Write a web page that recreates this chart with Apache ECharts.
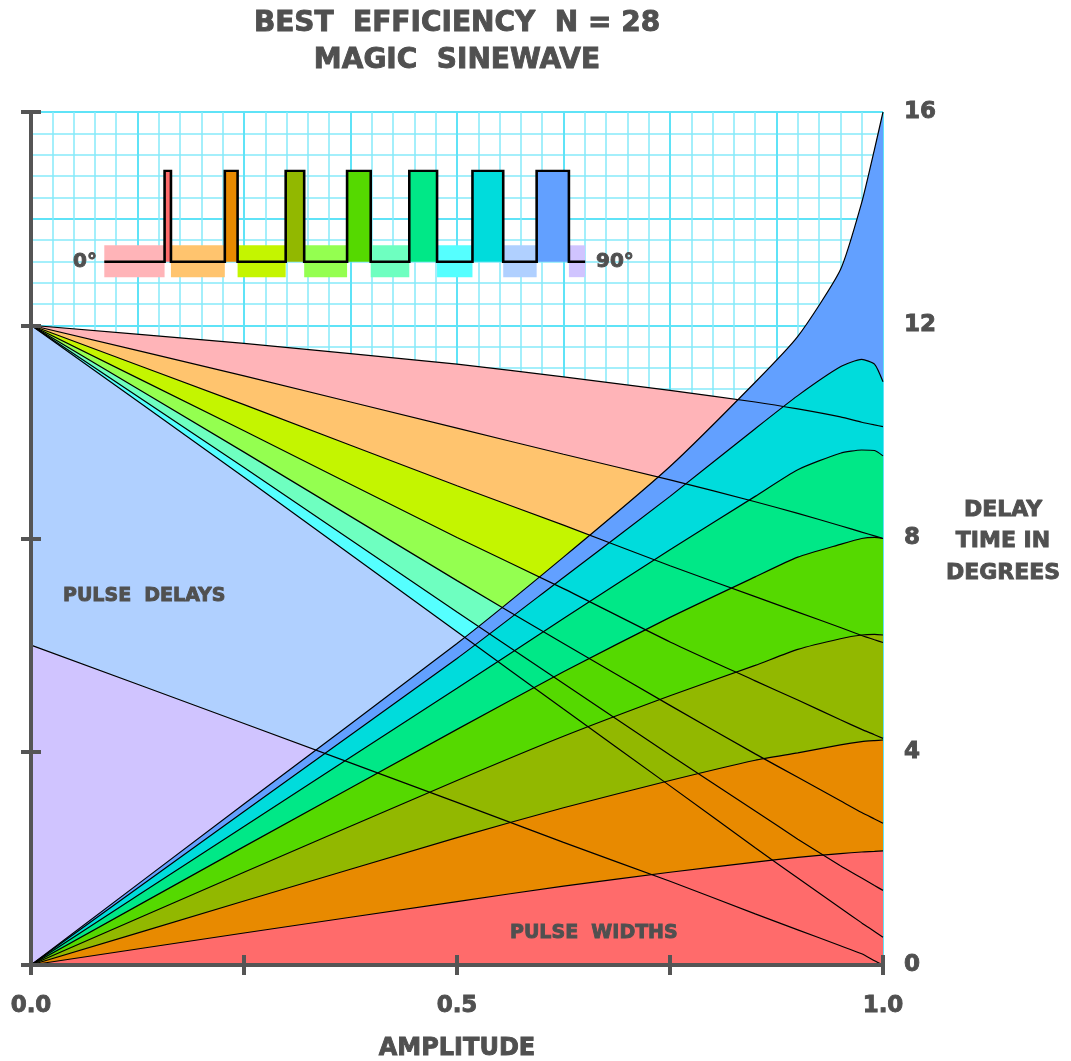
<!DOCTYPE html>
<html>
<head>
<meta charset="utf-8">
<title>Magic Sinewave N = 28</title>
<script src="https://cdn.jsdelivr.net/npm/echarts@6/dist/echarts.min.js"></script>
<style>
html, body { margin: 0; padding: 0; background: #fff; }
#main { width: 1071px; height: 1061px; }
</style>
</head>
<body>
<div id="main"></div>
<script>
var amplitude = [0, 0.25, 0.5, 0.625, 0.75, 0.85, 0.9, 0.95, 0.975, 0.99, 1.0];

// pulse delays (degrees), gap before each pulse, last one up to 90
var delay1 = [12, 11.66, 11.27, 11.03, 10.78, 10.56, 10.43, 10.28, 10.18, 10.13, 10.10];
var delay2 = [12, 11.05, 10.07, 9.58, 9.10, 8.69, 8.47, 8.24, 8.12, 8.05, 8.00];
var delay3 = [12, 10.51, 8.99, 8.25, 7.49, 6.91, 6.62, 6.33, 6.18, 6.10, 6.05];
var delay4 = [12, 10.02, 8.02, 7.06, 6.06, 5.33, 4.97, 4.60, 4.42, 4.32, 4.25];
var delay5 = [12, 9.62, 7.21, 6.03, 4.87, 3.96, 3.52, 3.08, 2.86, 2.74, 2.66];
var delay6 = [12, 9.33, 6.62, 5.28, 3.94, 2.89, 2.36, 1.86, 1.63, 1.49, 1.40];
var delay7 = [12, 9.15, 6.25, 4.80, 3.36, 2.20, 1.63, 1.07, 0.79, 0.63, 0.52];
var delay8 = [6, 4.53, 3.05, 2.30, 1.57, 0.96, 0.66, 0.36, 0.21, 0.08, 0];

// pulse widths (degrees)
var width1 = [0, 0.60, 1.19, 1.48, 1.74, 1.93, 2.02, 2.09, 2.12, 2.13, 2.14];
var width2 = [0, 1.20, 2.39, 2.95, 3.46, 3.84, 3.98, 4.13, 4.19, 4.21, 4.22];
var width3 = [0, 1.74, 3.46, 4.29, 5.05, 5.62, 5.92, 6.12, 6.19, 6.20, 6.19];
var width4 = [0, 2.22, 4.42, 5.50, 6.52, 7.28, 7.65, 7.89, 8.00, 8.02, 8.00];
var width5 = [0, 2.60, 5.19, 6.50, 7.79, 8.79, 9.29, 9.60, 9.66, 9.65, 9.55];
var width6 = [0, 2.88, 5.75, 7.27, 8.79, 10.06, 10.68, 11.22, 11.36, 11.27, 10.94];
var width7 = [0, 3.02, 6.03, 7.65, 9.35, 10.93, 11.79, 13.04, 14.30, 15.30, 16.00];

var yTicks = [0, 4, 8, 12, 16];
var xLabels = [0, 0.5, 1];
var insetAmplitude = 0.5;   // pulse train drawn in the inset

var delayColors = ['#ffb4b8', '#ffc46e', '#c4f500', '#94ff50', '#6effc0', '#55ffff', '#b0d0ff', '#d0c4ff'];
var widthColors = ['#ff6b6b', '#e88a00', '#92b800', '#55d900', '#00e887', '#00dcdc', '#62a0ff'];
var textColor = '#505050';
var axisColor = '#555';
var smoothness = 0.2;

var delays = [delay1, delay2, delay3, delay4, delay5, delay6, delay7, delay8];
var widths = [width1, width2, width3, width4, width5, width6, width7];

function pairs(vals) {
    return amplitude.map(function (a, i) { return [a, vals[i]]; });
}

var series = [];
// filled regions: delays largest first, then widths largest first
delays.forEach(function (d, k) {
    series.push({
        type: 'line', data: pairs(d), symbol: 'none', z: 2, smooth: smoothness,
        lineStyle: { width: 0, opacity: 0 },
        areaStyle: { color: delayColors[k], opacity: 1 }
    });
});
for (var k = widths.length - 1; k >= 0; k--) {
    series.push({
        type: 'line', data: pairs(widths[k]), symbol: 'none', z: 3, smooth: smoothness,
        lineStyle: { width: 0, opacity: 0 },
        areaStyle: { color: widthColors[k], opacity: 1 }
    });
}
// black outlines on top of all fills
delays.concat(widths).forEach(function (d) {
    series.push({
        type: 'line', data: pairs(d), symbol: 'none', z: 4, smooth: smoothness,
        lineStyle: { color: '#000', width: 1.2 }
    });
});

// inset pulse train at one amplitude
var col = amplitude.indexOf(insetAmplitude);
var segs = [];
var outline = [[0, 0]];
var t = 0;
for (var i = 0; i < delays.length; i++) {
    segs.push([t, t + delays[i][col], 0, i]);
    t += delays[i][col];
    if (i < widths.length) {
        var w = widths[i][col];
        segs.push([t, t + w, 1, i]);
        outline.push([t, 0], [t, 1], [t + w, 1], [t + w, 0]);
        t += w;
    }
}
outline.push([t, 0]);

series.push({
    type: 'custom', xAxisIndex: 3, yAxisIndex: 3, z: 5, clip: false,
    data: segs,
    renderItem: function (params, api) {
        var s = api.value(0), e = api.value(1), kind = api.value(2), idx = api.value(3);
        var top = kind ? 1 : 0.18, bot = kind ? 0 : -0.17;
        var p0 = api.coord([s, top]);
        var p1 = api.coord([e, bot]);
        return {
            type: 'rect',
            shape: { x: p0[0], y: p0[1], width: p1[0] - p0[0], height: p1[1] - p0[1] },
            style: { fill: kind ? widthColors[idx] : delayColors[idx] }
        };
    }
});
series.push({
    type: 'line', xAxisIndex: 3, yAxisIndex: 3, z: 6, symbol: 'none',
    data: outline,
    lineStyle: { color: '#000', width: 2.6, join: 'miter' }
});

var axisLineStyle = { show: true, lineStyle: { color: axisColor, width: 4 } };
var axisTickStyle = { show: true, inside: false, length: 10, lineStyle: { color: axisColor, width: 4 } };
var labelStyle = {
    color: textColor, fontSize: 23, fontWeight: 'bold', fontFamily: 'DejaVu Sans',
    textBorderColor: textColor, textBorderWidth: 0.9
};

function label(text, x, y, size, align, z) {
    return {
        type: 'text', x: x, y: y, z: z || 20,
        style: {
            text: text, align: align || 'center', verticalAlign: 'middle',
            fill: textColor, stroke: textColor, lineWidth: 0.9,
            font: 'bold ' + size + 'px "DejaVu Sans"'
        }
    };
}

var myChart = echarts.init(document.getElementById('main'));
var option = {
    animation: false,
    grid: [
        { left: 31, top: 112, width: 852, height: 853 },
        { left: 104.3, top: 170.7, width: 481.4, height: 91 }
    ],
    xAxis: [
        {
            type: 'value', min: 0, max: 1, interval: 0.25, position: 'bottom', z: 10,
            axisLine: axisLineStyle, axisTick: axisTickStyle, splitLine: { show: false },
            axisLabel: Object.assign({
                margin: 30,
                formatter: function (v) {
                    return xLabels.indexOf(v) >= 0 ? v.toFixed(1) : '';
                }
            }, labelStyle)
        },
        {
            type: 'value', min: 0, max: 1, interval: 0.25, position: 'top', z: 10,
            axisLine: axisLineStyle, axisTick: axisTickStyle,
            axisLabel: { show: false }, splitLine: { show: false }
        },
        {
            type: 'value', min: 0, max: 1, interval: 0.125, position: 'bottom',
            axisLine: { show: false }, axisTick: { show: false }, axisLabel: { show: false },
            splitLine: { show: true, lineStyle: { color: '#5fe3f7', width: 2 } },
            minorTick: { show: false, splitNumber: 5 },
            minorSplitLine: { show: true, lineStyle: { color: '#86eafa', width: 1.5 } }
        },
        { gridIndex: 1, type: 'value', min: 0, max: 90, show: false }
    ],
    yAxis: [
        {
            type: 'value', min: 0, max: 16, interval: 4, position: 'left', z: 10,
            axisLine: axisLineStyle, axisTick: axisTickStyle,
            axisLabel: { show: false }, splitLine: { show: false }
        },
        {
            type: 'value', min: 0, max: 16, interval: 4, position: 'right', z: 10,
            axisLine: axisLineStyle, axisTick: axisTickStyle, splitLine: { show: false },
            axisLabel: Object.assign({
                margin: 21,
                formatter: function (v) { return yTicks.indexOf(v) >= 0 ? String(v) : ''; }
            }, labelStyle)
        },
        {
            type: 'value', min: 0, max: 16, interval: 2, position: 'left',
            axisLine: { show: false }, axisTick: { show: false }, axisLabel: { show: false },
            splitLine: { show: true, lineStyle: { color: '#5fe3f7', width: 2 } },
            minorTick: { show: false, splitNumber: 5 },
            minorSplitLine: { show: true, lineStyle: { color: '#86eafa', width: 1.5 } }
        },
        { gridIndex: 1, type: 'value', min: 0, max: 1, show: false }
    ],
    graphic: [
        label('BEST  EFFICIENCY  N = 28', 457, 24, 28),
        label('MAGIC  SINEWAVE', 457, 61, 28),
        label('AMPLITUDE', 457, 1049, 24),
        label('DELAY', 1003, 510, 22),
        label('TIME IN', 1003, 541, 22),
        label('DEGREES', 1003, 573, 22),
        label('PULSE  DELAYS', 63, 596, 19, 'left'),
        label('PULSE  WIDTHS', 510, 933, 19, 'left'),
        label('0°', 97, 262, 20, 'right'),
        label('90°', 596, 262, 20, 'left')
    ],
    series: series
};
myChart.setOption(option);
</script>
</body>
</html>
